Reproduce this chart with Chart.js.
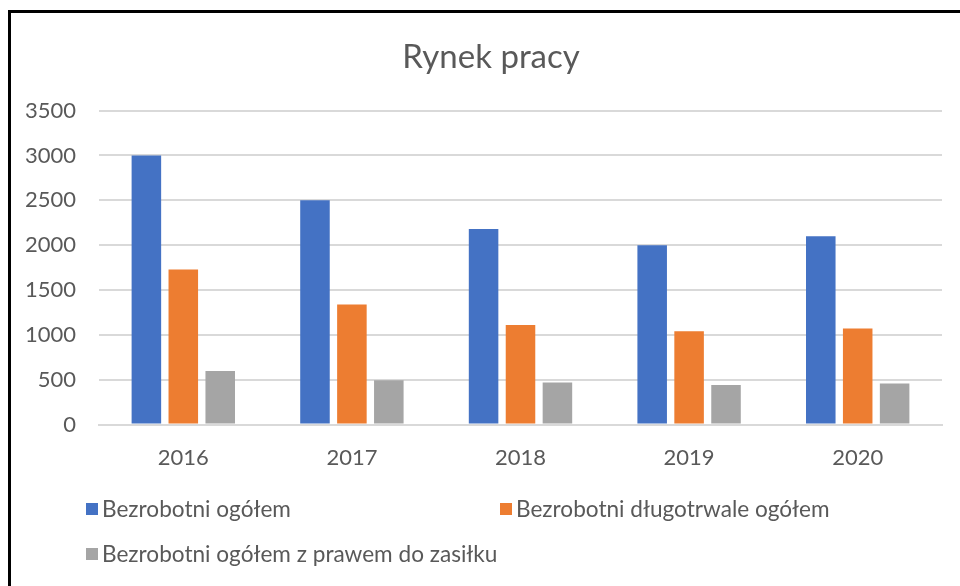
<!DOCTYPE html>
<html>
<head>
<meta charset="utf-8">
<script src="https://cdn.jsdelivr.net/npm/chart.js@4"></script>
<style>
  html, body { margin: 0; padding: 0; background: #fff; }
  #wrap { position: relative; width: 960px; height: 586px; overflow: hidden; }
  #frame { position: absolute; left: 8px; top: 10px; width: 960px; height: 600px;
           border-top: 3px solid #000; border-left: 3px solid #000; box-sizing: border-box; pointer-events: none; }
  canvas { position: absolute; left: 0; top: 0; }
</style>
</head>
<body>
<div id="wrap">
  <canvas id="c" width="960" height="586"></canvas>
  <div id="frame"></div>
</div>
<script>
const titleText = "Rynek pracy";
const categories = ["2016", "2017", "2018", "2019", "2020"];
const seriesNames = ["Bezrobotni ogółem", "Bezrobotni długotrwale ogółem", "Bezrobotni ogółem z prawem do zasiłku"];
const bezrobotniOgolem = [3000, 2500, 2180, 2000, 2100];
const bezrobotniDlugotrwale = [1730, 1340, 1110, 1040, 1070];
const bezrobotniZasilek = [598, 495, 468, 442, 457];
const yTicks = [0, 500, 1000, 1500, 2000, 2500, 3000, 3500];
const colors = ["#4472C4", "#ED7D31", "#A5A5A5"];

const FONT = "Lato, 'Liberation Sans', sans-serif";
const TXT = "#595959";

const legendPlugin = {
  id: 'gridLegend',
  afterLayout(chart) {
    // centre the title on the whole framed box, as in the original
    if (chart.titleBlock) { chart.titleBlock.left = 40; }
  },
  afterDraw(chart) {
    const ctx = chart.ctx;
    const cols = [86, 500];
    const rows = [509, 554];
    ctx.save();
    ctx.font = "22.6px " + FONT;
    ctx.textBaseline = "middle";
    ctx.textAlign = "left";
    chart.data.datasets.forEach((ds, i) => {
      const x = cols[i % 2];
      const y = rows[Math.floor(i / 2)];
      ctx.fillStyle = ds.backgroundColor;
      ctx.fillRect(x, y - 6, 12, 12);
      ctx.fillStyle = TXT;
      ctx.fillText(ds.label, x + 16, y + 1);
    });
    ctx.restore();
  }
};

new Chart(document.getElementById('c'), {
  type: 'bar',
  data: {
    labels: categories,
    datasets: [
      { label: seriesNames[0], data: bezrobotniOgolem, backgroundColor: colors[0] },
      { label: seriesNames[1], data: bezrobotniDlugotrwale, backgroundColor: colors[1] },
      { label: seriesNames[2], data: bezrobotniZasilek, backgroundColor: colors[2] }
    ]
  },
  options: {
    responsive: false,
    animation: false,
    devicePixelRatio: 1,
    categoryPercentage: 0.657,
    barPercentage: 0.8,
    layout: { padding: { left: 15, right: 18, top: 0, bottom: 95 } },
    plugins: {
      legend: { display: false },
      tooltip: { enabled: false },
      title: {
        display: true,
        text: titleText,
        color: TXT,
        font: { family: FONT, size: 33, weight: 'normal', lineHeight: 1.2 },
        padding: { top: 38, bottom: 33 }
      }
    },
    scales: {
      x: {
        grid: { display: false, drawTicks: false },
        border: { display: true, color: '#d9d9d9', width: 2 },
        ticks: { color: TXT, font: { family: FONT, size: 22, lineHeight: 1.2 }, padding: 20 }
      },
      y: {
        min: yTicks[0],
        max: yTicks[yTicks.length - 1],
        afterFit(scale) { scale.width = 84; },
        afterBuildTicks(scale) { scale.ticks = yTicks.map(v => ({ value: v })); },
        grid: { color: '#d9d9d9', lineWidth: 2, drawTicks: false },
        border: { display: false },
        ticks: {
          color: TXT, font: { family: FONT, size: 22, lineHeight: 1.2 }, padding: 23,
          callback: (v) => String(v)
        }
      }
    }
  },
  plugins: [legendPlugin]
});
</script>
</body>
</html>
